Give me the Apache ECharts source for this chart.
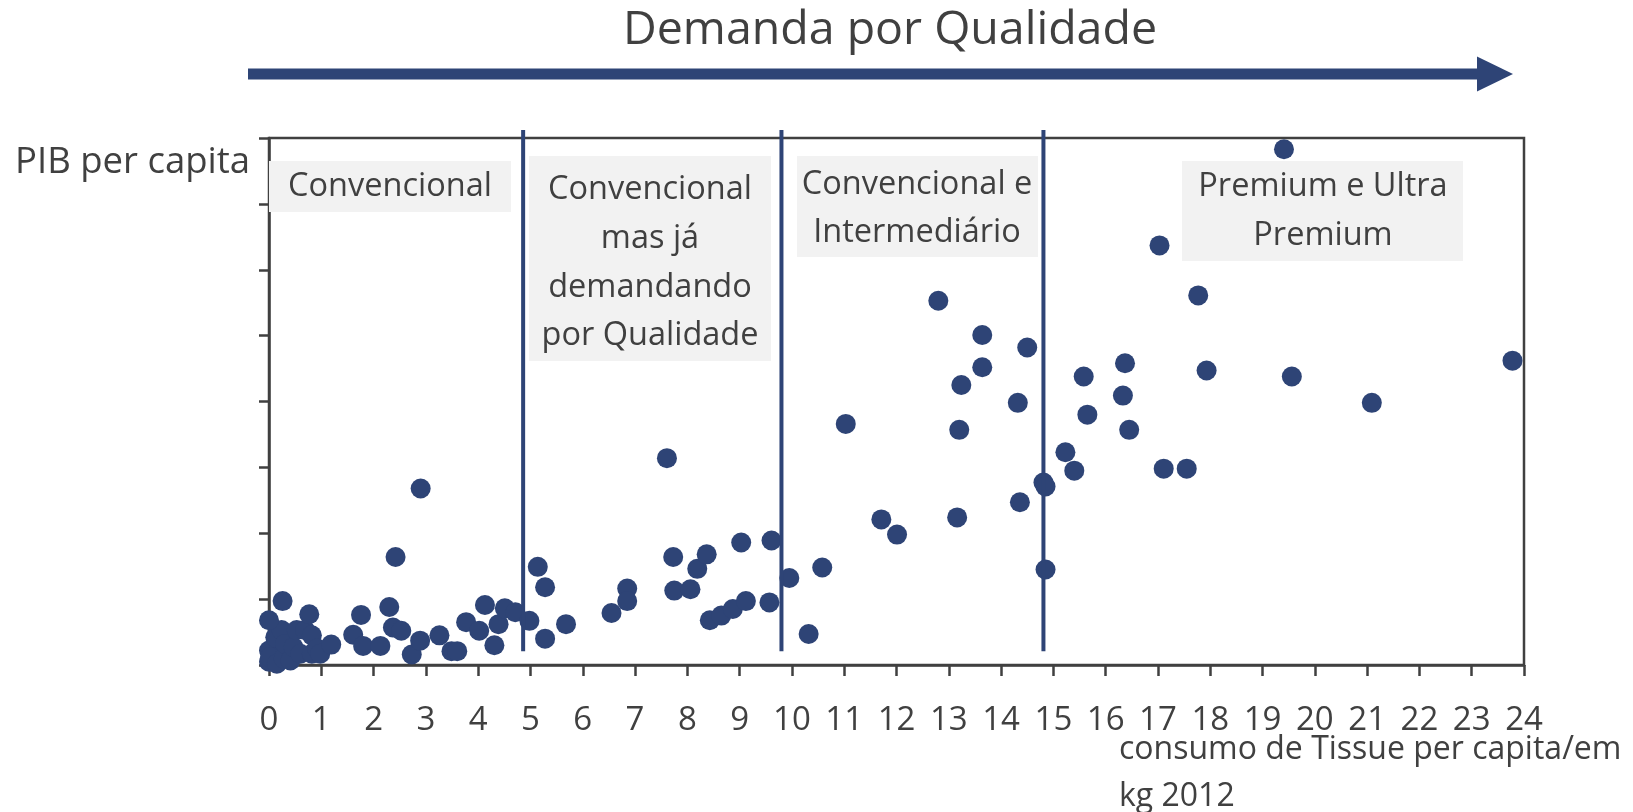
<!DOCTYPE html>
<html>
<head>
<meta charset="utf-8">
<script src="https://cdn.jsdelivr.net/npm/echarts@6/dist/echarts.min.js"></script>
<style>
html,body{margin:0;padding:0;background:#fff;}
#chart{width:1633px;height:812px;}
</style>
</head>
<body>
<div id="chart"></div>
<script>
// ---- data (x: consumo de tissue per capita kg; y: PIB per capita, relative units) ----
var xTickLabels = ['0','1','2','3','4','5','6','7','8','9','10','11','12','13','14','15','16','17','18','19','20','21','22','23','24'];

var convencional = [
  [0.00,0.05],[0.00,0.22],[0.02,0.12],[0.15,0.02],[0.28,0.10],[0.12,0.42],[0.24,0.53],
  [0.00,0.68],[0.26,0.97],[0.31,0.32],[0.41,0.07],[0.47,0.27],[0.53,0.53],[0.60,0.17],
  [0.69,0.53],[0.77,0.77],[0.82,0.45],[0.82,0.17],[0.92,0.25],[0.98,0.17],[1.19,0.31],
  [1.61,0.46],[1.76,0.76],[1.80,0.29],[2.13,0.29],[2.30,0.88],[2.37,0.57],[2.42,1.64],
  [2.53,0.52],[2.73,0.16],[2.90,2.68],[2.89,0.37],[3.26,0.45],[3.49,0.21],[3.60,0.21],
  [3.77,0.65],[4.02,0.52],[4.13,0.91],[4.31,0.30],[4.39,0.62],[4.51,0.86],[4.71,0.80]
];
var convencionalQualidade = [
  [4.98,0.67],[5.14,1.49],[5.28,1.18],[5.28,0.40],[5.68,0.62],[6.55,0.79],[6.85,1.16],
  [6.85,0.97],[7.61,3.14],[7.73,1.64],[7.75,1.13],[8.06,1.15],[8.19,1.46],[8.37,1.68],
  [8.43,0.68],[8.65,0.75],[8.87,0.85],[9.03,1.86],[9.12,0.97],[9.57,0.95],[9.61,1.89]
];
var intermediario = [
  [9.95,1.32],[10.32,0.47],[10.58,1.48],[11.03,3.66],[11.71,2.21],[12.01,1.98],[12.80,5.53],
  [13.16,2.24],[13.20,3.57],[13.24,4.25],[13.64,5.01],[13.64,4.52],[14.32,3.98],[14.36,2.47],
  [14.50,4.82],[14.81,2.77]
];
var premium = [
  [14.85,2.71],[14.85,1.45],[15.23,3.23],[15.40,2.95],[15.58,4.38],[15.65,3.80],[16.33,4.09],
  [16.37,4.58],[16.45,3.57],[17.03,6.37],[17.11,2.98],[17.55,2.98],[17.77,5.61],[17.93,4.47],
  [19.41,7.83],[19.56,4.38],[21.09,3.98],[23.78,4.62]
];
var segmentBounds = [4.86, 9.80, 14.81];
var dividerRange = [0.21, 8.12];

var segmentLabels = [
  'Convencional',
  'Convencional\nmas já\ndemandando\npor Qualidade',
  'Convencional e\nIntermediário',
  'Premium e Ultra\nPremium'
];
var titleText = 'Demanda por Qualidade';
var yName = 'PIB per capita';
var xName = 'consumo de Tissue per capita/em\nkg 2012';

// ---- styles ----
var FONT = '"Open Sans", "Noto Sans", sans-serif';
var TEXT = '#404040';
var NAVY = '#2E4476';
var AXIS = '#404040';

var chart = echarts.init(document.getElementById('chart'), null, {renderer:'canvas'});

var dots = [].concat(convencional, convencionalQualidade, intermediario, premium);

var series = [{
  type: 'scatter',
  data: dots,
  symbol: 'circle',
  symbolSize: 20,
  itemStyle: { color: NAVY, opacity: 1 },
  z: 3
}];
segmentBounds.forEach(function (b) {
  series.push({
    type: 'line',
    data: [[b, dividerRange[0]], [b, dividerRange[1]]],
    showSymbol: false,
    symbol: 'none',
    clip: false,
    lineStyle: { color: NAVY, width: 4 },
    z: 4,
    silent: true
  });
});

// annotation boxes (pixel layout)
var boxes = [
  {x:269, y:161, w:242, h:51, cx:390, cy:187, lh:48},
  {x:529, y:156, w:242, h:205, cx:650, cy:263, lh:48.7},
  {x:797, y:156, w:241, h:101, cx:917, cy:209, lh:48},
  {x:1182, y:161, w:281, h:100, cx:1323, cy:211.5, lh:49}
];
var graphics = [];
boxes.forEach(function (b, i) {
  graphics.push({
    type: 'rect', z: 10,
    shape: {x: b.x, y: b.y, width: b.w, height: b.h},
    style: {fill: '#F2F2F2'}
  });
  graphics.push({
    type: 'text', z: 11,
    x: b.cx, y: b.cy,
    style: {
      text: segmentLabels[i], fill: TEXT, font: '32.5px ' + FONT,
      align: 'center', verticalAlign: 'middle', lineHeight: b.lh
    }
  });
});
// title + arrow
graphics.push({
  type: 'text', z: 11, x: 890, y: 31,
  style: {text: titleText, fill: TEXT, font: '46.5px ' + FONT, align: 'center', verticalAlign: 'middle'}
});
graphics.push({
  type: 'rect', z: 10,
  shape: {x: 248, y: 68.5, width: 1231, height: 11},
  style: {fill: NAVY}
});
graphics.push({
  type: 'polygon', z: 10,
  shape: {points: [[1477, 56.5], [1513, 74], [1477, 91.5]]},
  style: {fill: NAVY}
});
// axis names
graphics.push({
  type: 'text', z: 11, x: 15, y: 163,
  style: {text: yName, fill: TEXT, font: '36.5px ' + FONT, align: 'left', verticalAlign: 'middle'}
});
graphics.push({
  type: 'text', z: 11, x: 1119, y: 773,
  style: {text: xName, fill: TEXT, font: '32px ' + FONT, align: 'left', verticalAlign: 'middle', lineHeight: 47}
});

chart.setOption({
  backgroundColor: '#ffffff',
  animation: false,
  grid: {
    left: 269, top: 138, width: 1255, height: 527,
    show: true, borderColor: AXIS, borderWidth: 2.5, backgroundColor: 'transparent'
  },
  xAxis: {
    type: 'value', min: 0, max: 24, interval: 1,
    axisLine: {show: true, onZero: false, lineStyle: {color: AXIS, width: 2.5}},
    axisTick: {show: true, inside: false, length: 11, lineStyle: {color: AXIS, width: 2.5}},
    splitLine: {show: false},
    axisLabel: {
      color: TEXT, fontSize: 33, fontFamily: FONT, margin: 39,
      formatter: function (v) { return xTickLabels[Math.round(v)]; }
    }
  },
  yAxis: {
    type: 'value', min: 0, max: 8, interval: 1,
    axisLine: {show: true, onZero: false, lineStyle: {color: AXIS, width: 2.5}},
    axisTick: {show: true, inside: false, length: 10, lineStyle: {color: AXIS, width: 2.5}},
    splitLine: {show: false},
    axisLabel: {show: false}
  },
  series: series,
  graphic: graphics
});
</script>
</body>
</html>
